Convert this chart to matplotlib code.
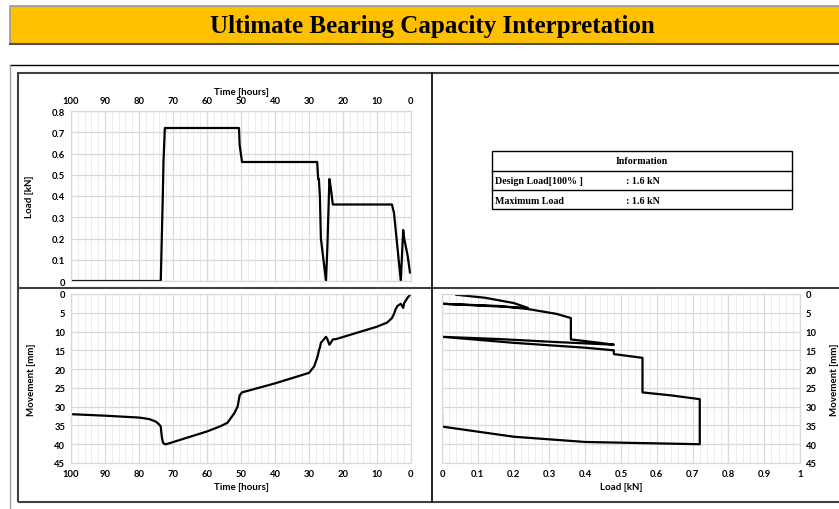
import matplotlib
matplotlib.use("Agg")
import matplotlib.pyplot as plt
from matplotlib.patches import Rectangle
from matplotlib.lines import Line2D
from matplotlib.ticker import MultipleLocator

# test readings: time before end [hours], load [kN], movement [mm]
time_h = [100, 90, 80, 77, 75, 74, 73.6, 73.3, 73.0, 72.8, 72.4, 72.0, 60, 56, 54, 52, 51,
          50.6, 50.4, 49.7, 40, 35, 30, 28.5, 27.6, 27.3, 27.1, 26.8, 26.5, 25.0,
          24.6, 24.3, 24.0, 23.6, 23.0, 22, 10, 7, 5.6, 5.0, 4.5, 4.0, 3.0,
          2.3, 2.0, 1.5, 1.0, 0.3]
load_kn = [0, 0, 0, 0, 0, 0, 0, 0.2, 0.4, 0.56, 0.72, 0.72, 0.72, 0.72, 0.72, 0.72, 0.72,
           0.72, 0.64, 0.56, 0.56, 0.56, 0.56, 0.56, 0.56, 0.48, 0.48, 0.40, 0.20, 0.0,
           0.16, 0.32, 0.48, 0.44, 0.36, 0.36, 0.36, 0.36, 0.36, 0.32, 0.24, 0.16, 0.0,
           0.24, 0.20, 0.16, 0.12, 0.04]
movement_mm = [32.0, 32.4, 32.9, 33.3, 34.0, 34.8, 35.3, 38.0, 39.4, 39.7, 40.0, 40.0, 36.6,
               35.2, 34.3, 31.8, 30.0, 28.0, 27.0, 26.2, 23.8, 22.4, 21.0, 19.3, 17.0, 16.0,
               15.0, 14.3, 13.0, 11.4, 12.0, 12.8, 13.5, 13.0, 12.1, 12.0, 8.7, 7.6, 6.4,
               5.3, 4.0, 3.2, 2.6, 3.7, 2.4, 1.7, 1.0, 0.2]

load_ticks = [0, 0.1, 0.2, 0.3, 0.4, 0.5, 0.6, 0.7, 0.8]
load_ticks_x = [0, 0.1, 0.2, 0.3, 0.4, 0.5, 0.6, 0.7, 0.8, 0.9, 1]
time_ticks = [100, 90, 80, 70, 60, 50, 40, 30, 20, 10, 0]
move_ticks = [0, 5, 10, 15, 20, 25, 30, 35, 40, 45]

title = "Ultimate Bearing Capacity Interpretation"
info_rows = [("Design Load[100% ]", ": 1.6 kN"), ("Maximum Load", ": 1.6 kN")]

W, H = 839, 510
fig = plt.figure(figsize=(W / 100, H / 100), dpi=100)
fig.patch.set_facecolor("white")


def fx(x):
    return x / W


def fy(y):
    return 1 - y / H


def box(x0, y0, x1, y1, **kw):
    fig.add_artist(Rectangle((fx(x0), fy(y1)), fx(x1 - x0), (y1 - y0) / H,
                             transform=fig.transFigure, **kw))


def hline(y, x0, x1, **kw):
    fig.add_artist(Line2D([fx(x0), fx(x1)], [fy(y), fy(y)], transform=fig.transFigure, **kw))


def vline(x, y0, y1, **kw):
    fig.add_artist(Line2D([fx(x), fx(x)], [fy(y0), fy(y1)], transform=fig.transFigure, **kw))


# title bar
box(10, 7, 845, 45, facecolor="#FFC000", edgecolor="#9a9a9a", lw=1.2)
hline(44.5, 10, 839, color="#505050", lw=1.5)
fig.text(fx(432), fy(27), title, ha="center", va="center", fontsize=18,
         fontweight="bold", family="Liberation Serif")

# frames
hline(66, 10, 839, color="black", lw=1.0)
vline(10, 66, 510, color="#a0a0a0", lw=1.0)
box(18, 74, 845, 503, facecolor="none", edgecolor="#404040", lw=1.5)
hline(289, 18, 839, color="#404040", lw=1.5)
vline(432, 74, 503, color="black", lw=1.2)

tick_font = dict(family="Lato", fontsize=6.8, fontweight="bold")
lab_font = dict(family="Lato", fontsize=7, fontweight="bold")


def style(ax, xmin):
    ax.xaxis.set_minor_locator(MultipleLocator(xmin))
    ax.grid(which="major", color="#d9d9d9", lw=0.9)
    ax.grid(which="minor", axis="x", color="#ececec", lw=0.7)
    ax.set_axisbelow(True)
    ax.tick_params(which="both", length=0, pad=4)
    for s in ax.spines.values():
        s.set_color("#d9d9d9")
        s.set_linewidth(0.9)


def ax_at(x0, y0, x1, y1):
    return fig.add_axes([fx(x0), fy(y1), fx(x1 - x0), (y1 - y0) / H])


# load vs time
ax1 = ax_at(71, 112, 411, 282)
ax1.plot(time_h, load_kn, color="black", lw=1.6)
ax1.set_xlim(100, 0)
ax1.set_ylim(0, 0.8)
ax1.set_xticks(time_ticks)
ax1.set_xticklabels([str(t) for t in time_ticks], **tick_font)
ax1.set_yticks(load_ticks)
ax1.set_yticklabels(["0" if v == 0 else f"{v:g}" for v in load_ticks], **tick_font)
ax1.xaxis.tick_top()
ax1.xaxis.set_label_position("top")
ax1.set_xlabel("Time [hours]", labelpad=2, **lab_font)
ax1.set_ylabel("Load [kN]", labelpad=13, **lab_font)
style(ax1, 2)

# movement vs time
ax2 = ax_at(71, 295, 411, 464)
ax2.plot(time_h, movement_mm, color="black", lw=1.6)
ax2.set_xlim(100, 0)
ax2.set_ylim(45, 0)
ax2.set_xticks(time_ticks)
ax2.set_xticklabels([str(t) for t in time_ticks], **tick_font)
ax2.set_yticks(move_ticks)
ax2.set_yticklabels([str(v) for v in move_ticks], **tick_font)
ax2.set_xlabel("Time [hours]", labelpad=3, **lab_font)
ax2.set_ylabel("Movement [mm]", labelpad=13, **lab_font)
style(ax2, 2)

# load vs movement
ax3 = ax_at(442, 295, 800, 464)
ax3.plot(load_kn, movement_mm, color="black", lw=1.6)
ax3.set_xlim(0, 1)
ax3.set_ylim(45, 0)
ax3.set_xticks(load_ticks_x)
ax3.set_xticklabels([f"{v:g}" for v in load_ticks_x], **tick_font)
ax3.set_yticks(move_ticks)
ax3.set_yticklabels([str(v) for v in move_ticks], **tick_font)
ax3.yaxis.tick_right()
ax3.yaxis.set_label_position("right")
ax3.set_xlabel("Load [kN]", labelpad=3, **lab_font)
ax3.set_ylabel("Movement [mm]", labelpad=10, rotation=90, **lab_font)
style(ax3, 0.02)

# information table
box(492, 152, 792, 210, facecolor="white", edgecolor="black", lw=1.0)
hline(172, 492, 792, color="black", lw=1.0)
hline(191, 492, 792, color="black", lw=1.0)
tab_font = dict(family="Liberation Serif", fontsize=7.2, fontweight="bold", va="center")
fig.text(fx(642), fy(162), "Information", ha="center", **tab_font)
for i, (name, val) in enumerate(info_rows):
    yy = 182 + i * 19.5
    fig.text(fx(495), fy(yy), name, ha="left", **tab_font)
    fig.text(fx(626), fy(yy), val, ha="left", **tab_font)

fig.savefig("out.png", dpi=100)
